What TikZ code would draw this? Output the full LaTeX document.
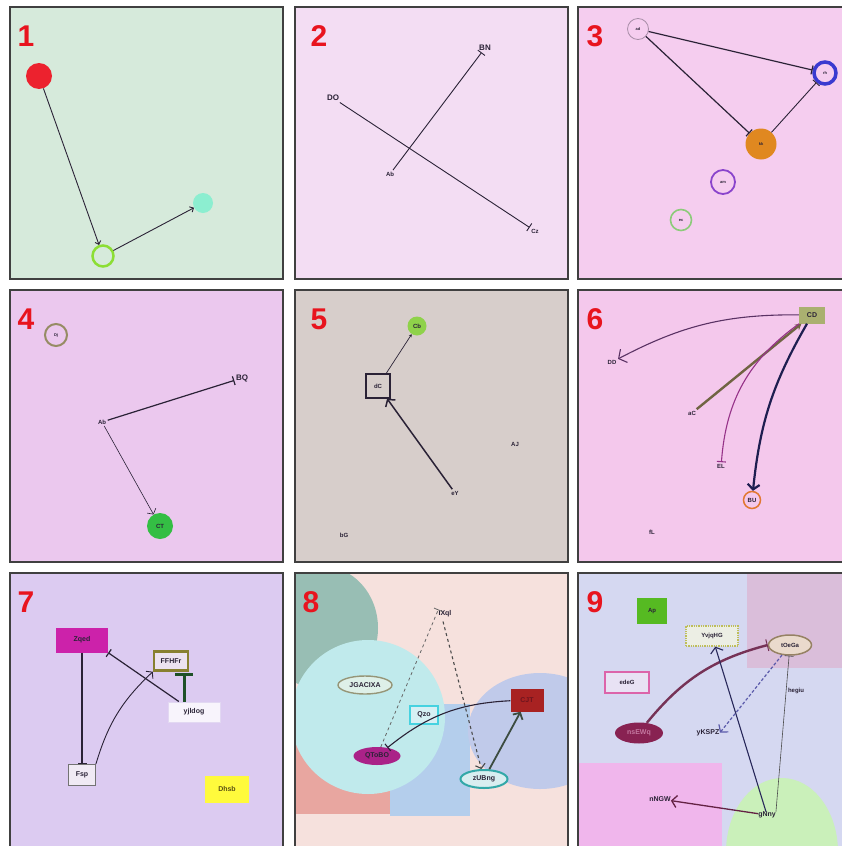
\documentclass[tikz,border=0pt]{standalone}
\usepackage{fontspec}
\setmainfont{Liberation Sans}
\usetikzlibrary{arrows.meta, positioning, shapes.geometric}

% panel colours
\definecolor{bgone}{HTML}{D6EADB}
\definecolor{bgtwo}{HTML}{F3DDF3}
\definecolor{bgthree}{HTML}{F5CDEF}
\definecolor{bgfour}{HTML}{EBC8EE}
\definecolor{bgfive}{HTML}{D7CECB}
\definecolor{bgsix}{HTML}{F4C8EC}
\definecolor{bgseven}{HTML}{DCCBF1}
\definecolor{bgeight}{HTML}{F6E1DD}
\definecolor{bgnine}{HTML}{D5D8F1}
\definecolor{numred}{HTML}{E8141E}
\definecolor{inkdark}{HTML}{2A2236}
% backdrop regions
\definecolor{tealblob}{HTML}{98BEB4}
\definecolor{salmon}{HTML}{E8A6A0}
\definecolor{skyrect}{HTML}{B4CEEC}
\definecolor{periwinkle}{HTML}{C0CAEA}
\definecolor{paleaqua}{HTML}{C0EAEC}
\definecolor{mauve}{HTML}{DABEDA}
\definecolor{pinkrect}{HTML}{F0B6EC}
\definecolor{palegreen}{HTML}{CAF0BA}

\begin{document}
\begin{tikzpicture}[x=1pt, y=-1pt,
    panel/.style={draw=black!75, line width=1.1pt},
    num/.style={text=numred, font=\fontsize{30}{30}\selectfont\bfseries, inner sep=0pt},
    lbl/.style={font=\fontsize{8}{9}\selectfont\bfseries, text=inkdark, inner sep=1.5pt},
    small/.style={font=\fontsize{6}{7}\selectfont\bfseries, text=inkdark, inner sep=1.5pt},
    tiny/.style={font=\fontsize{4}{5}\selectfont\bfseries, text=inkdark},
    bubble/.style={circle, inner sep=0pt},
    box/.style={rectangle, inner sep=0pt, font=\fontsize{7}{8}\selectfont\bfseries, text=inkdark},
    oval/.style={ellipse, inner sep=0pt, font=\fontsize{7}{8}\selectfont\bfseries, text=inkdark},
    edge/.style={draw=inkdark, line width=0.9pt},
    act/.style={-{Straight Barb[length=4pt,width=10pt]}},
    inh/.style={-{Bar[width=9pt]}}
]
\useasboundingbox (0,0) rectangle (841,846);

% ---- 1
\fill[bgone] (10,7) rectangle (283,279);
\node[num] (n1) at (26,36) {1};
\node[bubble, fill={rgb,255:red,236;green,34;blue,46}, minimum size=26pt] (red1) at (39,76) {};
\node[bubble, draw={rgb,255:red,140;green,222;blue,52}, line width=2.5pt, minimum size=21pt] (ring1) at (103,256) {};
\node[bubble, fill={rgb,255:red,140;green,238;blue,208}, minimum size=20pt] (mint1) at (203,203) {};
\draw[edge, -{Straight Barb[length=3pt,width=6pt]}] (red1) -- (ring1);
\draw[edge, -{Straight Barb[length=3pt,width=6pt]}] (ring1) -- (mint1);
\draw[panel] (10,7) rectangle (283,279);

% ---- 2
\fill[bgtwo] (295,7) rectangle (568,279);
\node[num] (n2) at (319,36) {2};
\node[lbl] (BN) at (485,48) {BN};
\node[lbl] (DO) at (333,98) {DO};
\node[small] (Ab2) at (390,174) {Ab};
\node[small] (Cz) at (535,231) {Cz};
\draw[edge, inh] (Ab2) -- (BN);
\draw[edge, inh] (DO) -- (Cz);
\draw[panel] (295,7) rectangle (568,279);

% ---- 3
\fill[bgthree] (578,7) rectangle (851,279);
\node[num] (n3) at (595,36) {3};
\node[bubble, draw={rgb,255:red,168;green,142;blue,168}, line width=0.8pt, minimum size=21pt, tiny] (ad) at (638,29) {ad};
\node[bubble, draw={rgb,255:red,58;green,58;blue,208}, line width=3.5pt, minimum size=22pt, tiny] (rh) at (825,73) {rh};
\node[bubble, fill={rgb,255:red,224;green,136;blue,32}, minimum size=31pt, tiny] (kk) at (761,144) {kk};
\node[bubble, draw={rgb,255:red,138;green,68;blue,204}, line width=1.8pt, minimum size=24pt, tiny] (am) at (723,182) {am};
\node[bubble, draw={rgb,255:red,140;green,203;blue,122}, line width=1.6pt, minimum size=21pt, tiny] (ec) at (681,220) {ec};
\draw[edge, line width=1.2pt, inh] (ad) -- (rh);
\draw[edge, line width=1.2pt, inh] (ad) -- (kk);
\draw[edge, inh] (kk) -- (rh);
\draw[panel] (578,7) rectangle (851,279);

% ---- 4
\fill[bgfour] (10,290) rectangle (283,562);
\node[num] (n4) at (26,319) {4};
\node[bubble, draw={rgb,255:red,150;green,140;blue,100}, line width=2pt, minimum size=22pt, tiny] (Dj) at (56,335) {Dj};
\node[lbl] (BQ) at (242,378) {BQ};
\node[small] (Ab4) at (102,422) {Ab};
\node[bubble, fill={rgb,255:red,52;green,190;blue,68}, minimum size=26pt, small] (CT) at (160,526) {CT};
\draw[edge, line width=1.2pt, inh] (Ab4) -- (BQ);
\draw[edge, line width=0.6pt, act] (Ab4) -- (CT);
\draw[panel] (10,290) rectangle (283,562);

% ---- 5
\fill[bgfive] (295,290) rectangle (568,562);
\node[num] (n5) at (319,319) {5};
\node[bubble, fill={rgb,255:red,143;green,210;blue,74}, minimum size=19pt, small] (Cb) at (417,326) {Cb};
\node[rectangle, draw=inkdark, line width=1.3pt, minimum size=24pt, small] (dC) at (378,386) {dC};
\node[small] (AJ) at (515,444) {AJ};
\node[small] (eY) at (455,493) {eY};
\node[small] (bG) at (344,535) {bG};
\draw[edge, line width=0.7pt, -{Stealth[length=3pt,width=3pt]}] (dC) -- (Cb);
\draw[edge, line width=1.5pt, -{Straight Barb[length=5pt,width=12pt]}] (eY) -- (dC);
\draw[panel] (295,290) rectangle (568,562);

% ---- 6
\fill[bgsix] (578,290) rectangle (851,562);
\node[num] (n6) at (595,319) {6};
\node[box, fill={rgb,255:red,170;green,176;blue,112}, minimum width=26pt, minimum height=17pt] (CD) at (812,315) {CD};
\node[small] (DD) at (612,362) {DD};
\node[small] (aC) at (692,413) {aC};
\node[small] (EL) at (721,466) {EL};
\node[bubble, draw={rgb,255:red,226;green,120;blue,48}, line width=1.5pt, minimum size=17pt, small] (BU) at (752,500) {BU};
\node[small] (fL) at (652,532) {fL};
\draw[edge, draw={rgb,255:red,90;green,50;blue,100}, line width=1.1pt, -{Straight Barb[length=6pt,width=15pt]}] (CD) to[bend right=14] (DD);
\draw[edge, draw={rgb,255:red,112;green,100;blue,66}, line width=2.4pt, -{Stealth[length=6pt,width=7pt]}] (aC) -- (CD);
\draw[edge, draw={rgb,255:red,150;green,50;blue,136}, line width=1.1pt, inh] (CD) to[bend right=25] (EL);
\draw[edge, draw={rgb,255:red,30;green,30;blue,80}, line width=2.2pt, -{Straight Barb[length=5pt,width=12pt]}] (CD) to[bend right=12] (BU);
\draw[panel] (578,290) rectangle (851,562);

% ---- 7
\fill[bgseven] (10,573) rectangle (283,850);
\node[num] (n7) at (26,602) {7};
\node[box, fill={rgb,255:red,204;green,34;blue,170}, minimum width=52pt, minimum height=25pt] (Zqed) at (82,640) {Zqed};
\node[box, draw={rgb,255:red,136;green,128;blue,48}, line width=2.5pt, fill={rgb,255:red,236;green,226;blue,240}, minimum width=34pt, minimum height=19pt] (FFHFr) at (171,661) {FFHFr};
\node[box, draw={rgb,255:red,226;green,216;blue,242}, line width=1pt, fill={rgb,255:red,248;green,244;blue,252}, minimum width=52pt, minimum height=20pt] (yjldog) at (194,712) {yjldog};
\node[box, draw=black!55, line width=0.8pt, fill={rgb,255:red,240;green,234;blue,244}, minimum width=27pt, minimum height=21pt] (Fsp) at (82,775) {Fsp};
\node[box, fill={rgb,255:red,255;green,250;blue,60}, minimum width=44pt, minimum height=27pt, text={rgb,255:red,90;green,80;blue,20}] (Dhsb) at (227,789) {Dhsb};
\draw[edge, line width=1.2pt, inh] (Zqed) -- (Fsp);
\draw[edge, line width=1.2pt, inh] (yjldog) -- (Zqed.south east);
\draw[edge, line width=0.9pt, act] (Fsp.north east) to[bend left=15] (FFHFr.south west);
\draw[edge, draw={rgb,255:red,30;green,80;blue,40}, line width=3pt, -{Bar[width=18pt,line width=3pt]}] ([xshift=-5pt]FFHFr.south east |- yjldog.north) -- ([xshift=-5pt, yshift=-1pt]FFHFr.south east);
\draw[panel] (10,573) rectangle (283,850);

% ---- 8
\fill[bgeight] (295,573) rectangle (568,850);
\begin{scope}
  \clip (295,573) rectangle (568,850);
  \fill[tealblob] (322,628) ellipse [x radius=56, y radius=62];
  \fill[salmon] (295,735) rectangle (390,814);
  \fill[skyrect] (390,704) rectangle (470,816);
  \fill[periwinkle] (540,731) ellipse [x radius=72, y radius=58];
  \fill[paleaqua] (368,717) circle [radius=77];
\end{scope}
\node[num] (n8) at (311,602) {8};
\node[box] (IXql) at (445,614) {IXql};
\node[oval, draw={rgb,255:red,150;green,150;blue,120}, line width=1.4pt, fill={rgb,255:red,222;green,240;blue,232}, minimum width=54pt, minimum height=18pt] (JGACIXA) at (365,685) {JGACIXA};
\node[box, draw={rgb,255:red,70;green,210;blue,224}, line width=1.5pt, fill={rgb,255:red,214;green,240;blue,244}, minimum width=28pt, minimum height=18pt] (Qzo) at (424,715) {Qzo};
\node[oval, fill={rgb,255:red,170;green,34;blue,136}, minimum width=47pt, minimum height=18pt] (QToBO) at (377,756) {QToBO};
\node[box, fill={rgb,255:red,168;green,34;blue,34}, minimum width=33pt, minimum height=23pt, text={rgb,255:red,110;green,20;blue,30}] (CJT) at (527,700) {CJT};
\node[oval, draw={rgb,255:red,50;green,168;blue,168}, line width=2pt, fill={rgb,255:red,216;green,238;blue,240}, minimum width=47pt, minimum height=18pt] (zUBng) at (484,779) {zUBng};
\draw[edge, draw=black!60, line width=0.8pt, dashed, inh] (QToBO) -- ([yshift=8pt]IXql.south west);
\draw[edge, draw=black!70, line width=1.1pt, dashed, act] ([xshift=-2pt, yshift=-4pt]IXql.south) -- (zUBng);
\draw[edge, line width=1.1pt, inh] (CJT) to[bend right=18] (QToBO);
\draw[edge, draw={rgb,255:red,60;green,76;blue,64}, line width=1.8pt, -{Straight Barb[length=5pt,width=11pt]}] (zUBng) -- (CJT);
\draw[panel] (295,573) rectangle (568,850);

% ---- 9
\fill[bgnine] (578,573) rectangle (851,850);
\begin{scope}
  \clip (578,573) rectangle (851,850);
  \fill[mauve] (747,573) rectangle (851,668);
  \fill[pinkrect] (578,763) rectangle (722,850);
  \fill[palegreen] (782,852) ellipse [x radius=56, y radius=74];
\end{scope}
\node[num] (n9) at (595,602) {9};
\node[box, fill={rgb,255:red,86;green,186;blue,34}, minimum width=30pt, minimum height=26pt, font=\fontsize{6}{7}\selectfont\bfseries] (Ap) at (652,611) {Ap};
\node[box, draw={rgb,255:red,190;green,190;blue,90}, line width=1.3pt, densely dotted, fill={rgb,255:red,236;green,238;blue,228}, minimum width=52pt, minimum height=20pt, font=\fontsize{6}{7}\selectfont\bfseries] (YvjqHG) at (712,636) {YvjqHG};
\node[oval, draw={rgb,255:red,150;green,130;blue,100}, line width=1.5pt, fill={rgb,255:red,234;green,218;blue,204}, minimum width=43pt, minimum height=20pt, font=\fontsize{6}{7}\selectfont\bfseries] (tOeGa) at (790,645) {tOeGa};
\node[box, draw={rgb,255:red,220;green,100;blue,170}, line width=2pt, fill={rgb,255:red,232;green,226;blue,244}, minimum width=44pt, minimum height=21pt, font=\fontsize{6}{7}\selectfont\bfseries] (edeG) at (627,682) {edeG};
\node[oval, fill={rgb,255:red,136;green,34;blue,82}, minimum width=48pt, minimum height=21pt, text={rgb,255:red,196;green,120;blue,160}] (nsEWq) at (639,733) {nsEWq};
\node[small] (hegiu) at (796,691) {hegiu};
\node[box] (yKSPZ) at (708,733) {yKSPZ};
\node[box] (nNGW) at (660,799) {nNGW};
\node[box] (gNny) at (767,815) {gNny};
\draw[edge, draw={rgb,255:red,118;green,50;blue,86}, line width=2.4pt, -{Bar[width=12pt,line width=1pt]}] (nsEWq) to[bend left=18] (tOeGa.west);
\draw[edge, draw={rgb,255:red,40;green,40;blue,90}, line width=1.1pt, -{Straight Barb[length=5pt,width=13pt]}] (gNny) -- (YvjqHG);
\draw[edge, draw={rgb,255:red,90;green,90;blue,170}, line width=1.2pt, densely dashed, -{Straight Barb[length=5pt,width=12pt]}] (tOeGa) -- ([xshift=12pt, yshift=-3pt]yKSPZ.north);
\draw[edge, draw=black!70, line width=0.6pt, inh] (gNny.north east) -- (tOeGa);
\draw[edge, draw={rgb,255:red,100;green,34;blue,68}, line width=1.3pt, -{Straight Barb[length=5pt,width=12pt]}] (gNny) -- (nNGW);
\draw[panel] (578,573) rectangle (851,850);
\end{tikzpicture}
\end{document}
